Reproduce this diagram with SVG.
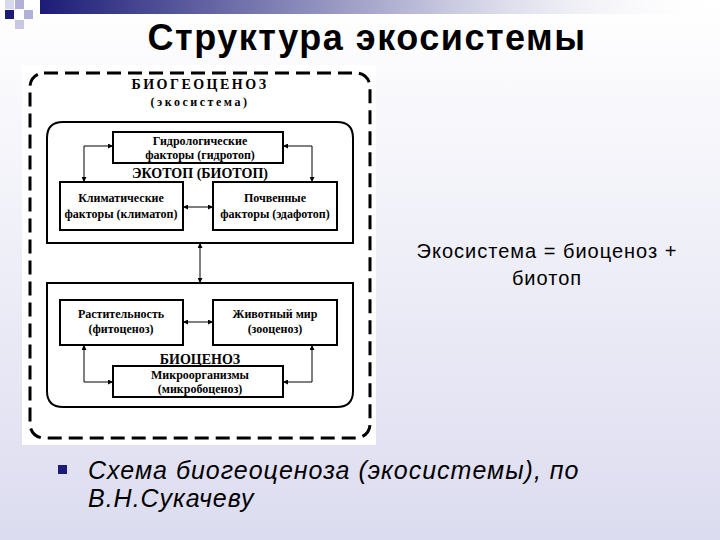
<svg xmlns="http://www.w3.org/2000/svg" width="720" height="540" viewBox="0 0 720 540">
<defs>
<linearGradient id="bg" x1="0" y1="0" x2="0" y2="1"><stop offset="0" stop-color="#ffffff"/><stop offset="1" stop-color="#dcdcf0"/></linearGradient>
<linearGradient id="bar" x1="0" y1="0" x2="1" y2="0"><stop offset="0" stop-color="#1c1c78"/><stop offset="0.6" stop-color="#c8c8e0"/><stop offset="1" stop-color="#ffffff" stop-opacity="0"/></linearGradient>
<marker id="a" viewBox="0 0 6 6" refX="6" refY="3" markerWidth="5" markerHeight="5" orient="auto-start-reverse"><path d="M0,0L6,3L0,6z" fill="#000"/></marker>
<style>
.b{fill:#fff;stroke:#000;stroke-width:2}
.t{font-family:"Liberation Serif",serif;font-weight:bold;font-size:12px;text-anchor:middle;fill:#000}
.h{font-family:"Liberation Serif",serif;font-weight:bold;font-size:14px;text-anchor:middle;fill:#000}
.c{fill:none;stroke:#000;stroke-width:1;marker-start:url(#a);marker-end:url(#a)}
</style>
</defs>
<rect width="720" height="540" fill="url(#bg)"/>
<rect x="40" y="0" width="680" height="14" fill="url(#bar)"/>
<rect x="5" y="10" width="9" height="9" fill="#1c1c78"/>
<rect x="15" y="0" width="9" height="9" fill="#b0b0d8"/>
<rect x="24" y="10" width="9" height="9" fill="#b0b0d8"/>
<rect x="15" y="20" width="9" height="9" fill="#c8c8e4"/>
<rect x="5" y="0" width="9" height="9" fill="#d8d8ec"/>
<text x="367" y="50" font-family="Liberation Sans,Arial,sans-serif" font-weight="bold" font-size="36" text-anchor="middle" fill="#000" letter-spacing="1.5">Структура экосистемы</text>
<rect x="22" y="65" width="354" height="380" fill="#fff"/>
<g id="outer">
<rect x="30" y="73" width="340" height="365" rx="14" fill="none" stroke="#000" stroke-width="3" stroke-dasharray="14,7"/>
<text x="200" y="89" class="h" letter-spacing="2.5">БИОГЕОЦЕНОЗ</text>
<text x="200" y="106" class="t" letter-spacing="2.5">(экосистема)</text>
</g>
<g id="ecotop">
<path d="M47,243V138Q47,122 63,122H337Q353,122 353,138V243Z" class="b" stroke-width="3"/>
<text x="200" y="178" class="h">ЭКОТОП (БИОТОП)</text>
</g>
<g id="hydro"><rect x="113" y="132" width="170" height="31" class="b"/><text x="200" y="145" class="t">Гидрологические</text><text x="200" y="159" class="t">факторы (гидротоп)</text></g>
<g id="clim"><rect x="60" y="182" width="123" height="48" class="b"/><text x="121" y="202" class="t">Климатические</text><text x="121" y="218" class="t">факторы (климатоп)</text></g>
<g id="soil"><rect x="213" y="182" width="124" height="48" class="b"/><text x="275" y="202" class="t">Почвенные</text><text x="275" y="218" class="t">факторы (эдафотоп)</text></g>
<g id="biocen">
<path d="M47,283H353V391Q353,407 337,407H63Q47,407 47,391Z" class="b" stroke-width="3"/>
<text x="200" y="364" class="h">БИОЦЕНОЗ</text>
</g>
<g id="veg"><rect x="60" y="300" width="123" height="45" class="b"/><text x="121" y="318" class="t">Растительность</text><text x="121" y="333" class="t">(фитоценоз)</text></g>
<g id="anim"><rect x="213" y="300" width="124" height="45" class="b"/><text x="275" y="318" class="t">Животный мир</text><text x="275" y="333" class="t">(зооценоз)</text></g>
<g id="micro"><rect x="113" y="366" width="170" height="31" class="b"/><text x="200" y="379" class="t">Микроорганизмы</text><text x="200" y="393" class="t">(микробоценоз)</text></g>
<g id="connectors">
<path class="c" d="M113,146H84V182"/>
<path class="c" d="M283,146H312V182"/>
<path class="c" d="M183,207H213"/>
<path class="c" d="M200,243V283"/>
<path class="c" d="M183,322H213"/>
<path class="c" d="M84,345V382H113"/>
<path class="c" d="M312,345V382H283"/>
</g>
<g font-family="Liberation Sans,Arial,sans-serif" font-size="20" text-anchor="middle" fill="#000" letter-spacing="1">
<text x="547" y="258">Экосистема = биоценоз +</text>
<text x="547" y="285">биотоп</text>
</g>
<rect x="58" y="465" width="9" height="9" fill="#1c1c78"/>
<g font-family="Liberation Sans,Arial,sans-serif" font-size="25" font-style="italic" fill="#000" letter-spacing="1">
<text x="88" y="479">Схема биогеоценоза (экосистемы), по</text>
<text x="88" y="507">В.Н.Сукачеву</text>
</g>
</svg>
